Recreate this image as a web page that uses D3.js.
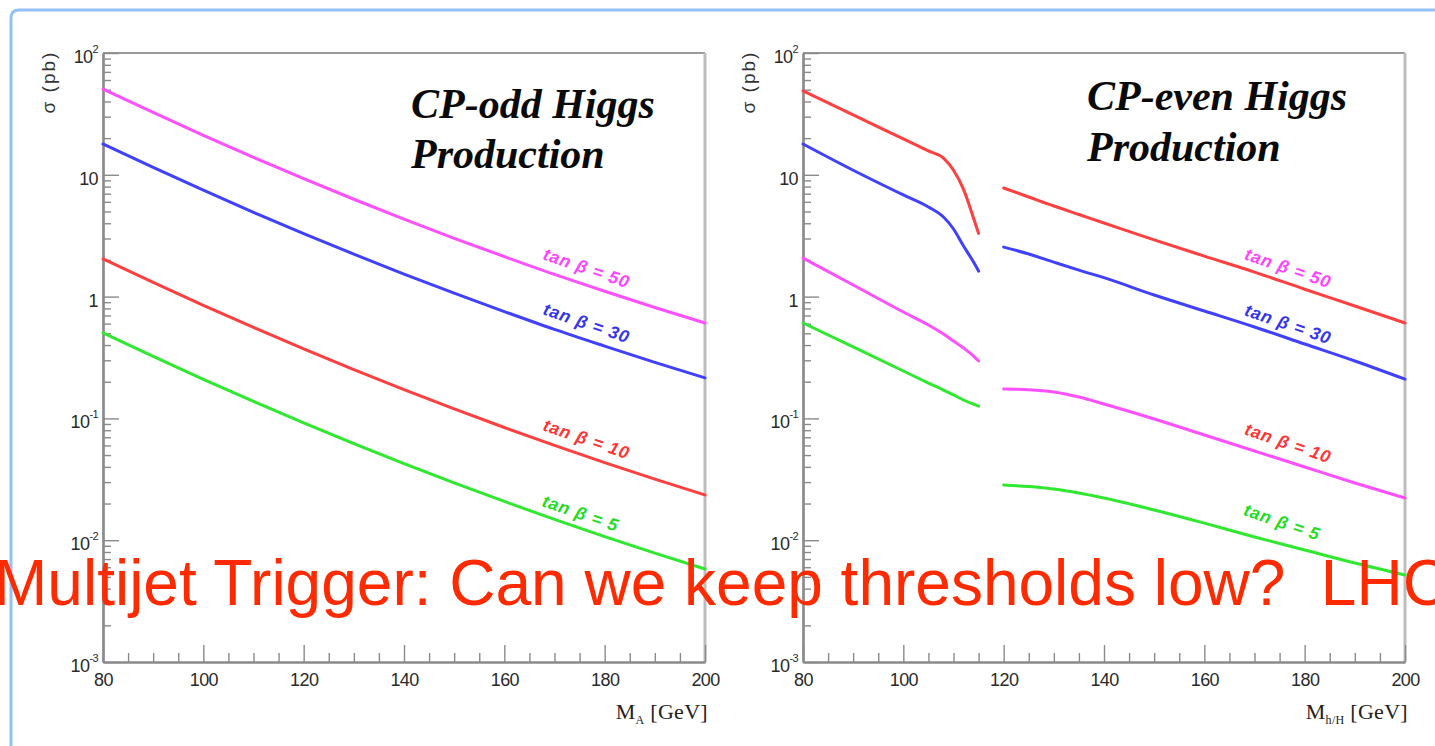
<!DOCTYPE html>
<html><head><meta charset="utf-8">
<script src="https://cdn.jsdelivr.net/npm/d3@7"></script>
<style>html,body{margin:0;padding:0;background:#fff;overflow:hidden}</style>
</head><body>
<svg id="c" width="1435" height="746"></svg>
<script>
// ---------- DATA ----------
// CP-odd Higgs (left panel), sigma in pb vs M_A in GeV
const massOdd = [80, 90, 100, 110, 120, 130, 140, 150, 160, 170, 180, 190, 200];
const oddTb50 = [50.6, 32.5, 21.1, 13.9, 9.30, 6.30, 4.33, 3.01, 2.13, 1.52, 1.106, 0.814, 0.607];
const oddTb30 = [17.9, 11.5, 7.47, 4.92, 3.29, 2.23, 1.53, 1.066, 0.754, 0.538, 0.392, 0.288, 0.215];
const oddTb10 = [2.04, 1.306, 0.848, 0.558, 0.3726, 0.2519, 0.1725, 0.1197, 0.0842, 0.0600, 0.0433, 0.0317, 0.0235];
const oddTb5  = [0.504, 0.3225, 0.2094, 0.1378, 0.0920, 0.0622, 0.0426, 0.02955, 0.0208, 0.01481, 0.01069, 0.00783, 0.0058];

// CP-even Higgs (right panel): light h (below ~115 GeV) and heavy H (above 120 GeV)
const massEvenLow  = [80, 90, 100, 105, 108, 110, 112, 114, 115];
const massEvenHigh = [120, 125, 130, 135, 140, 150, 160, 170, 180, 190, 200];
const evenLowRed   = [48.8, 31.0, 19.7, 15.7, 13.7, 10.9, 7.6, 4.4, 3.3];
const evenLowBlue  = [17.9, 10.9, 6.83, 5.44, 4.50, 3.59, 2.60, 1.92, 1.62];
const evenLowPink  = [2.07, 1.245, 0.747, 0.585, 0.493, 0.432, 0.378, 0.325, 0.296];
const evenLowGreen = [0.607, 0.386, 0.245, 0.195, 0.171, 0.156, 0.1416, 0.131, 0.126];
const evenHighRed   = [7.79, 6.57, 5.54, 4.72, 4.02, 2.92, 2.15, 1.59, 1.15, 0.837, 0.607];
const evenHighBlue  = [2.55, 2.24, 1.92, 1.65, 1.43, 1.03, 0.762, 0.563, 0.408, 0.296, 0.210];
const evenHighPink  = [0.174, 0.172, 0.165, 0.150, 0.1313, 0.0989, 0.0731, 0.0540, 0.0399, 0.0295, 0.0222];
const evenHighGreen = [0.0284, 0.0276, 0.0263, 0.0244, 0.0222, 0.0177, 0.0138, 0.01062, 0.00831, 0.0065, 0.00518];

// Curve labels (text, anchor mass, anchor sigma)
const labelTexts = ["tan \u03B2 = 50", "tan \u03B2 = 30", "tan \u03B2 = 10", "tan \u03B2 = 5"];
const labelMassOdd  = [176.4, 176.4, 176.4, 175.2];
const labelSigmaOdd = [1.72, 0.607, 0.0678, 0.0167];
const labelMassEven  = [176.7, 176.7, 176.7, 175.5];
const labelSigmaEven = [1.72, 0.596, 0.0628, 0.0141];

// Axes ticks
const xMajorTicks = [80, 100, 120, 140, 160, 180, 200];
const yMajorTicks = [100, 10, 1, 0.1, 0.01, 0.001];
const yTickBase = ["10", "10", "1", "10", "10", "10"];
const yTickSup  = ["2", "", "", "-1", "-2", "-3"];

const bannerText = "Multijet Trigger: Can we keep thresholds low?\u00A0\u00A0LHC";

// ---------- STYLE ----------
const C = {pink: "#ff50ff", blue: "#4040ff", red: "#ff4040", green: "#30e830"};
const LC = {pink: "#ff44ff", blue: "#3535ee", red: "#ff3535", green: "#22dd22"};
const labelColors = [LC.pink, LC.blue, LC.red, LC.green];

const svg = d3.select("#c");
svg.append("rect").attr("width", 1435).attr("height", 746).attr("fill", "#fff");

// slide frame
svg.append("path")
  .attr("d", "M11,746 L11,18 Q11,10 19,10 L1435,10")
  .attr("fill", "none").attr("stroke", "#93c1f5").attr("stroke-width", 3);

function drawPanel(p) {
  const x = d3.scaleLinear().domain([80, 200]).range([p.left, p.right]);
  const y = d3.scaleLog().domain([1e-3, 1e2]).range([p.bottom, p.top]);
  const g = svg.append("g");

  // frame top/right
  g.append("line").attr("x1", p.left).attr("x2", p.right).attr("y1", p.top).attr("y2", p.top)
    .attr("stroke", "#9a9a9a").attr("stroke-width", 2);
  g.append("line").attr("x1", p.right).attr("x2", p.right).attr("y1", p.top).attr("y2", p.bottom)
    .attr("stroke", "#bdbdbd").attr("stroke-width", 3);

  // y minor ticks
  const minorY = [];
  for (let e = -3; e < 2; e++) for (let k = 2; k < 10; k++) minorY.push(k * Math.pow(10, e));
  const ay1 = g.append("g").attr("transform", `translate(${p.left},0)`)
    .call(d3.axisLeft(y).tickValues(minorY).tickSizeInner(-8).tickSizeOuter(0).tickFormat(""));
  const ay2 = g.append("g").attr("transform", `translate(${p.left},0)`)
    .call(d3.axisLeft(y).tickValues(yMajorTicks).tickSizeInner(-16).tickSizeOuter(0).tickFormat(""));
  // x ticks
  const minorX = d3.range(85, 200, 5).filter(v => v % 20 !== 0);
  const ax1 = g.append("g").attr("transform", `translate(0,${p.bottom})`)
    .call(d3.axisBottom(x).tickValues(minorX).tickSizeInner(-9).tickSizeOuter(0).tickFormat(""));
  const ax2 = g.append("g").attr("transform", `translate(0,${p.bottom})`)
    .call(d3.axisBottom(x).tickValues(xMajorTicks).tickSizeInner(-17).tickSizeOuter(0)
      .tickPadding(11).tickFormat(d3.format("d")));
  [ay1, ay2, ax1, ax2].forEach(a => {
    a.select(".domain").attr("stroke", "#8a8a8a").attr("stroke-width", 2.2);
    a.selectAll(".tick line").attr("stroke", "#8a8a8a").attr("stroke-width", 1.4);
  });
  ax2.selectAll("text").attr("font-family", "Liberation Sans, Arial, sans-serif")
    .attr("font-size", 18).attr("fill", "#2a2a2a").attr("letter-spacing", -0.6);

  // y tick labels
  yMajorTicks.forEach((v, i) => {
    const t = g.append("text").attr("x", p.left - 5).attr("y", y(v) + 10)
      .attr("text-anchor", "end").attr("font-family", "Liberation Sans, Arial, sans-serif")
      .attr("font-size", 18).attr("fill", "#2a2a2a").attr("letter-spacing", -0.6);
    t.append("tspan").text(yTickBase[i]);
    if (yTickSup[i]) t.append("tspan").attr("dy", -10).attr("font-size", 11).text(yTickSup[i]);
  });

  // y axis title
  g.append("text")
    .attr("transform", `translate(${p.left - 48},${p.top + 29}) rotate(-90)`)
    .attr("text-anchor", "middle").attr("font-family", "Liberation Sans, Arial, sans-serif")
    .attr("font-size", 19).attr("letter-spacing", 2).attr("fill", "#333")
    .text("\u03C3 (pb)");

  // x axis title
  const xt = g.append("text").attr("x", p.right + 3).attr("y", 719).attr("text-anchor", "end")
    .attr("font-family", "Liberation Serif, Times New Roman, serif").attr("font-size", 22)
    .attr("letter-spacing", 0.3).attr("fill", "#222");
  xt.append("tspan").text("M");
  xt.append("tspan").attr("dy", 5).attr("font-size", 12).text(p.xsub);
  xt.append("tspan").attr("dy", -5).text(" [GeV]");

  // curves
  const line = d3.line().x(d => x(d[0])).y(d => y(d[1])).curve(d3.curveMonotoneX);
  p.series.forEach(s => {
    g.append("path").datum(d3.zip(s.m, s.v)).attr("d", line)
      .attr("fill", "none").attr("stroke", s.color).attr("stroke-width", 3)
      .attr("stroke-linecap", "round");
  });

  // curve labels
  labelTexts.forEach((t, i) => {
    const cx = x(p.labelMass[i]), cy = y(p.labelSigma[i]);
    g.append("text").attr("transform", `translate(${cx},${cy}) rotate(19)`)
      .attr("text-anchor", "middle").attr("dy", "0.35em")
      .attr("font-family", "Liberation Sans, Arial, sans-serif").attr("font-size", 17.5)
      .attr("font-weight", "bold").attr("font-style", "italic").attr("letter-spacing", 0.9)
      .attr("fill", labelColors[i]).text(t);
  });

  // title
  p.title.forEach((t, i) => {
    g.append("text").attr("x", p.titleX).attr("y", p.titleY[i])
      .attr("font-family", "Liberation Serif, Times New Roman, serif").attr("font-size", 42)
      .attr("font-weight", "bold").attr("font-style", "italic").attr("fill", "#0a0a0a").text(t);
  });
}

drawPanel({
  left: 103, right: 705, top: 53, bottom: 662, xsub: "A",
  title: ["CP-odd Higgs", "Production"], titleX: 411, titleY: [118, 168],
  labelMass: labelMassOdd, labelSigma: labelSigmaOdd,
  series: [
    {m: massOdd, v: oddTb50, color: C.pink},
    {m: massOdd, v: oddTb30, color: C.blue},
    {m: massOdd, v: oddTb10, color: C.red},
    {m: massOdd, v: oddTb5, color: C.green}
  ]
});
drawPanel({
  left: 803, right: 1405, top: 53, bottom: 662, xsub: "h/H",
  title: ["CP-even Higgs", "Production"], titleX: 1087, titleY: [110, 161],
  labelMass: labelMassEven, labelSigma: labelSigmaEven,
  series: [
    {m: massEvenLow, v: evenLowRed, color: C.red},
    {m: massEvenLow, v: evenLowBlue, color: C.blue},
    {m: massEvenLow, v: evenLowPink, color: C.pink},
    {m: massEvenLow, v: evenLowGreen, color: C.green},
    {m: massEvenHigh, v: evenHighRed, color: C.red},
    {m: massEvenHigh, v: evenHighBlue, color: C.blue},
    {m: massEvenHigh, v: evenHighPink, color: C.pink},
    {m: massEvenHigh, v: evenHighGreen, color: C.green}
  ]
});

// overlay banner
svg.append("text").attr("x", -6).attr("y", 605)
  .attr("font-family", "Liberation Sans, Arial, Helvetica, sans-serif").attr("font-size", 64)
  .attr("fill", "#ff2a00").attr("xml:space", "preserve").text(bannerText);
</script>
</body></html>
